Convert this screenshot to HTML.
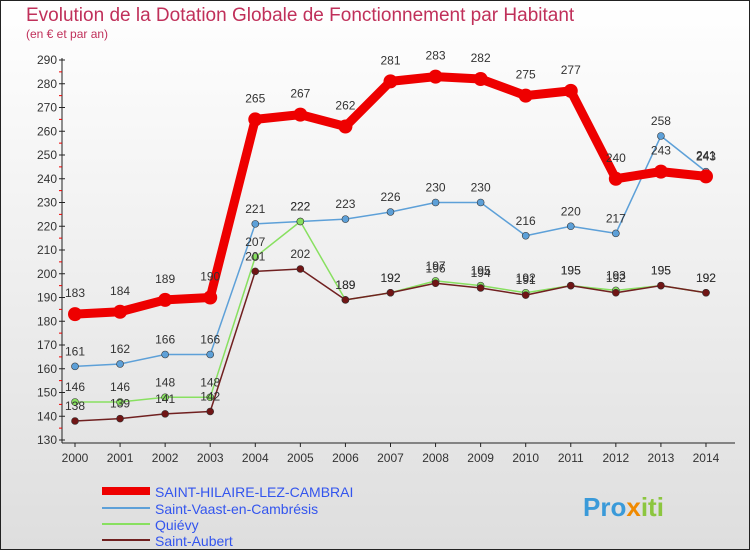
<!DOCTYPE html>
<html><head><meta charset="utf-8"><style>
body{margin:0;background:#fff}
#c{width:750px;height:550px;position:relative;font-family:"Liberation Sans",sans-serif}
svg text{font-family:"Liberation Sans",sans-serif}
</style></head><body>
<div id="c">
<svg id="s" width="750" height="550" xmlns="http://www.w3.org/2000/svg">
<defs><linearGradient id="bg" x1="0" y1="0" x2="0" y2="1"><stop offset="0" stop-color="#ffffff"/><stop offset="1" stop-color="#dedede"/></linearGradient></defs>
<rect x="0.5" y="0.5" width="749" height="549" fill="url(#bg)" stroke="#222"/>
<text x="26" y="21" font-size="19" fill="#c0305a">Evolution de la Dotation Globale de Fonctionnement par Habitant</text>
<text x="26" y="38" font-size="12" fill="#c0305a">(en € et par an)</text>
<g id="axes"></g><g id="series"></g>
<g>
<line x1="102" y1="491" x2="150" y2="491" stroke="#e00" stroke-width="8"/>
<text x="155" y="497" font-size="14" fill="#3355ee">SAINT-HILAIRE-LEZ-CAMBRAI</text>
<line x1="102" y1="508" x2="150" y2="508" stroke="#5da0d8" stroke-width="2"/>
<text x="155" y="514" font-size="14" fill="#3355ee">Saint-Vaast-en-Cambrésis</text>
<line x1="102" y1="524" x2="150" y2="524" stroke="#88e060" stroke-width="2"/>
<text x="155" y="530" font-size="14" fill="#3355ee">Quiévy</text>
<line x1="102" y1="540" x2="150" y2="540" stroke="#702020" stroke-width="2"/>
<text x="155" y="546" font-size="14" fill="#3355ee">Saint-Aubert</text>
</g>
<text x="583" y="516" font-size="26" font-weight="bold" fill="#3a9ad9">Pro<tspan fill="#f08a00">x</tspan><tspan fill="#8cc63f">iti</tspan></text>
</svg></div>
<script>
const years=[2000,2001,2002,2003,2004,2005,2006,2007,2008,2009,2010,2011,2012,2013,2014];
const yTicks=[130,140,150,160,170,180,190,200,210,220,230,240,250,260,270,280,290];
const hilaire=[183,184,189,190,265,267,262,281,283,282,275,277,240,243,241];
const vaast=[161,162,166,166,221,222,223,226,230,230,216,220,217,258,243];
const quievy=[146,146,148,148,207,222,189,192,197,195,192,195,193,195,192];
const aubert=[138,139,141,142,201,202,189,192,196,194,191,195,192,195,192];
const NS="http://www.w3.org/2000/svg";
const X=i=>75+i*45.07, Y=v=>60+(290-v)*2.375;
function mk(t,a,p){const e=document.createElementNS(NS,t);for(const k in a)e.setAttribute(k,a[k]);p.appendChild(e);return e;}
const ax=document.getElementById('axes');
let l=mk('line',{x1:62,y1:58,x2:62,y2:443,stroke:'#222'},ax);


l=mk('line',{x1:62,y1:443,x2:735,y2:443,stroke:'#222'},ax);


yTicks.forEach(v=>{
 mk('line',{x1:59,y1:Y(v),x2:65,y2:Y(v),stroke:'#222'},ax);
 if(v<290)mk('line',{x1:59,y1:Y(v+5),x2:62,y2:Y(v+5),stroke:'#e00'},ax);
 const t=mk('text',{x:57,y:Y(v)+4,'font-size':12,'text-anchor':'end',fill:'#333'},ax);t.textContent=v;
 
 
});
years.forEach((y,i)=>{
 mk('line',{x1:X(i),y1:443,x2:X(i),y2:447,stroke:'#222'},ax);
 const t=mk('text',{x:X(i),y:462,'font-size':12,'text-anchor':'middle',fill:'#333'},ax);t.textContent=y;
 
 
});
const sg=document.getElementById('series');
function draw(vals,color,w,r,name,dot){
 const g=mk('g',{},sg);
 
 
 mk('polyline',{points:vals.map((v,i)=>X(i)+','+Y(v)).join(' '),fill:'none',stroke:color,'stroke-width':w,'stroke-linejoin':'round'},g);
 vals.forEach((v,i)=>{
  const c=mk('circle',{cx:X(i),cy:Y(v),r:r,fill:dot,stroke:'#333','stroke-width':r>4?0:0.6},g);
  
  
  const t=mk('text',{x:X(i),y:Y(v)-(r>4?17:11),'font-size':12,'text-anchor':'middle',fill:'#333'},g);t.textContent=v;
  
  
 });
}
draw(vaast,'#5da0d8',1.5,3.5,'series-saint-vaast','#5da0d8');
draw(quievy,'#88e060',1.5,3.5,'series-quievy','#88e060');
draw(aubert,'#702020',1.5,3.5,'series-saint-aubert','#701515');
draw(hilaire,'#e00',9,7,'series-saint-hilaire','#e00');
</script>
</body></html>
